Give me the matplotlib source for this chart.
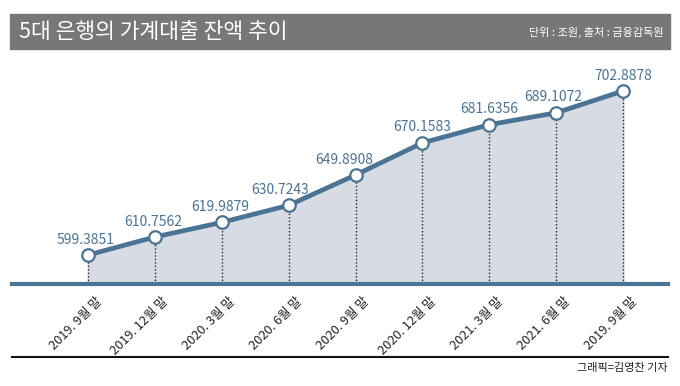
import numpy as np
import matplotlib.pyplot as plt
import matplotlib.transforms as mtransforms

plt.rcParams['font.family'] = ['Noto Sans CJK KR', 'DejaVu Sans']

periods = ['2019. 9월 말', '2019. 12월 말', '2020. 3월 말', '2020. 6월 말', '2020. 9월 말',
           '2020. 12월 말', '2021. 3월 말', '2021. 6월 말', '2019. 9월 말']
balance = [599.3851, 610.7562, 619.9879, 630.7243, 649.8908,
           670.1583, 681.6356, 689.1072, 702.8878]
labels = ['599.3851', '610.7562', '619.9879', '630.7243', '649.8908',
          '670.1583', '681.6356', '689.1072', '702.8878']

W, H = 680, 386
fig = plt.figure(figsize=(W / 100, H / 100), dpi=100)

# title bar
bar = plt.Rectangle((10 / W, 1 - 49 / H), 660 / W, 35 / H, transform=fig.transFigure,
                    color='#777777', zorder=0)
fig.patches.append(bar)
fig.text(19 / W, 1 - 31.5 / H, '5대 은행의 가계대출 잔액 추이', color='white',
         fontsize=15.5, va='center', ha='left', fontweight='medium')
fig.text(664 / W, 1 - 32 / H, '단위 : 조원, 출처 : 금융감독원', color='white',
         fontsize=8, va='center', ha='right')

# plot area: baseline at y=284 px, x from 12 to 668
ax = fig.add_axes([12 / W, 1 - 284 / H, 656 / W, 224 / H])
line_col = '#4b7393'
x = np.arange(len(balance))
ax.set_xlim(-1.136, 8.67)
ax.set_ylim(581.1, 722.4)

ax.fill_between(x, balance, 581.1, color='#d6dbe4', zorder=1)
ax.vlines(x, 581.1, balance, colors='#222222', linestyles=(0, (1, 1.5)), linewidth=1, zorder=2)
ax.plot(x, balance, color=line_col, linewidth=3.4, zorder=3,
        marker='o', markersize=9, markerfacecolor='white', markeredgecolor=line_col,
        markeredgewidth=1.6)

# small horizontal nudges for the value labels (points)
label_dx = [-2, -1, -1, -6, -8, 0, 0, -2, 0]
for xi, v, t, dx in zip(x, balance, labels, label_dx):
    ax.annotate(t, (xi, v), xytext=(dx, 6), textcoords='offset points',
                ha='center', va='bottom', color=line_col, fontsize=10)

for s in ['top', 'right', 'left']:
    ax.spines[s].set_visible(False)
ax.spines['bottom'].set_color(line_col)
ax.spines['bottom'].set_linewidth(3)
ax.set_yticks([])
ax.set_xticks(x)
ax.set_xticklabels(periods, rotation=45, ha='right', va='top', rotation_mode='anchor',
                   fontsize=9.2, color='#222222')
ax.tick_params(axis='x', length=0, pad=8)
offset = mtransforms.ScaledTranslation(7 / 100, 0, fig.dpi_scale_trans)
for lab in ax.get_xticklabels():
    lab.set_transform(lab.get_transform() + offset)

# bottom rule and credit
fig.add_artist(plt.Line2D([12 / W, 668 / W], [1 - 357 / H, 1 - 357 / H],
                          transform=fig.transFigure, color='#111111', linewidth=1.5))
fig.text(668 / W, 1 - 368 / H, '그래픽=김영찬 기자', color='#222222', fontsize=8,
         ha='right', va='center')

fig.savefig('out.png', dpi=100)
